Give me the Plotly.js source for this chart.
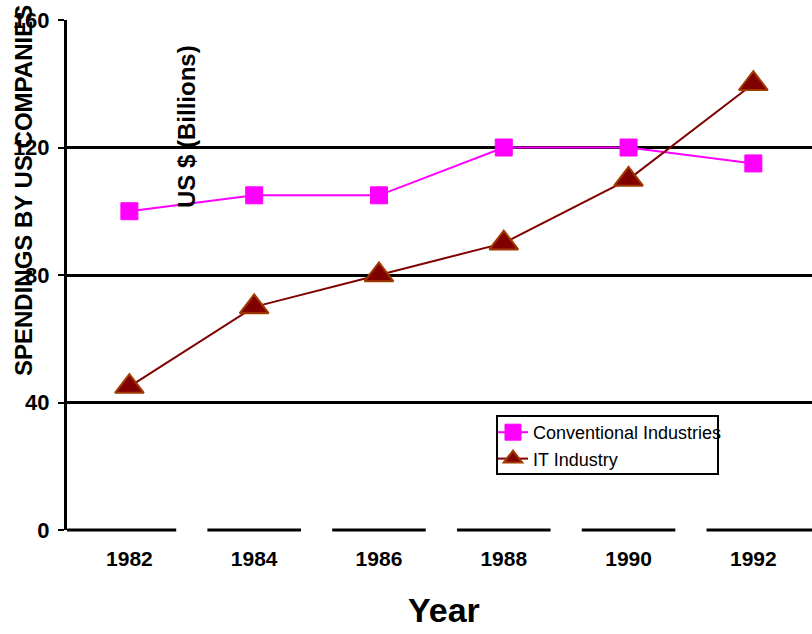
<!DOCTYPE html>
<html>
<head>
<meta charset="utf-8">
<script src="https://cdn.plot.ly/plotly-3.0.1.min.js"></script>
<style>html,body{margin:0;padding:0;background:#fff;}#chart{width:812px;height:634px;}</style>
</head>
<body>
<div id="chart"></div>
<script>
var years = ['1982', '1984', '1986', '1988', '1990', '1992'];
var conventional = [100, 105, 105, 120, 120, 115];
var itIndustry = [45, 70, 80, 90, 110, 140];
var yTicks = [0, 40, 80, 120, 160];

var FONT = 'Liberation Sans, Arial, sans-serif';
var X_RANGE = [-0.5, 5.47];

var traces = [
  {
    type: 'scatter', mode: 'lines+markers', name: 'Conventional Industries',
    x: years, y: conventional,
    line: {color: '#FF00FF', width: 2},
    marker: {symbol: 'square', size: 17, color: '#FF00FF', line: {color: '#FF00FF', width: 1}}
  },
  {
    type: 'scatter', mode: 'lines+markers', name: 'IT Industry',
    x: years, y: itIndustry,
    line: {color: '#800000', width: 2},
    marker: {symbol: 'triangle-up', size: 25, color: '#800000', line: {color: '#A03A00', width: 2}}
  }
];

// broken x-axis baseline segments (decoration), converted to paper coords so they are not clipped
function toPaperX(v) { return (v - X_RANGE[0]) / (X_RANGE[1] - X_RANGE[0]); }
var shapes = [];
var gap = 0.125;
for (var i = 0; i < years.length; i++) {
  var a = i === 0 ? -0.5 : i - 0.5 + gap;
  var b = i === years.length - 1 ? X_RANGE[1] : i + 0.5 - gap;
  shapes.push({
    type: 'line', xref: 'paper', yref: 'paper', layer: 'above',
    x0: toPaperX(a), x1: toPaperX(b),
    y0: 0, y1: 0,
    line: {color: '#000', width: 3}
  });
}
// legend frame
shapes.push({
  type: 'rect', xref: 'paper', yref: 'paper', layer: 'below',
  x0: (497 - 67) / 745, x1: (718 - 67) / 745,
  y0: (530 - 474) / 510, y1: (530 - 416) / 510,
  line: {color: '#000', width: 2}, fillcolor: '#fff'
});

var layout = {
  width: 812, height: 634,
  margin: {l: 67, r: 0, t: 20, b: 104},
  paper_bgcolor: '#fff', plot_bgcolor: '#fff',
  showlegend: true,
  font: {family: FONT, color: '#000'},
  xaxis: {
    type: 'category', range: X_RANGE,
    showgrid: false, zeroline: false, showline: false, ticks: '',
    tickfont: {family: FONT, size: 21, weight: 'bold', color: '#000'},
    ticklabelstandoff: 14
  },
  yaxis: {
    range: [0, 160], tickvals: yTicks, ticktext: yTicks.map(String),
    showgrid: true, gridcolor: '#000', gridwidth: 3,
    zeroline: false, showline: true, linecolor: '#000', linewidth: 3,
    ticks: 'outside', ticklen: 6, tickwidth: 2, tickcolor: '#000',
    tickfont: {family: FONT, size: 22, weight: 'bold', color: '#000'},
    ticklabelstandoff: 4
  },
  legend: {
    x: (493 - 67) / 745, y: (530 - 414) / 510, xanchor: 'left', yanchor: 'top',
    bgcolor: 'rgba(0,0,0,0)', borderwidth: 0,
    font: {family: FONT, size: 18, color: '#000'},
    tracegroupgap: 0
  },
  shapes: shapes,
  annotations: [
    {
      text: 'SPENDINGS BY US COMPANIES', textangle: -90, showarrow: false,
      xref: 'paper', yref: 'paper', x: (23 - 67) / 745, y: (530 - 191) / 510,
      xanchor: 'center', yanchor: 'middle',
      font: {family: FONT, size: 24, weight: 'bold', color: '#000'}
    },
    {
      text: 'US $ (Billions)', textangle: -90, showarrow: false,
      xref: 'paper', yref: 'paper', x: (186 - 67) / 745, y: (530 - 127) / 510,
      xanchor: 'center', yanchor: 'middle',
      font: {family: FONT, size: 24, weight: 'bold', color: '#000'}
    },
    {
      text: 'Year', showarrow: false,
      xref: 'paper', yref: 'paper', x: (444 - 67) / 745, y: (530 - 610) / 510,
      xanchor: 'center', yanchor: 'middle',
      font: {family: FONT, size: 34, weight: 'bold', color: '#000'}
    }
  ]
};

Plotly.newPlot('chart', traces, layout, {displayModeBar: false, staticPlot: true});
</script>
</body>
</html>
